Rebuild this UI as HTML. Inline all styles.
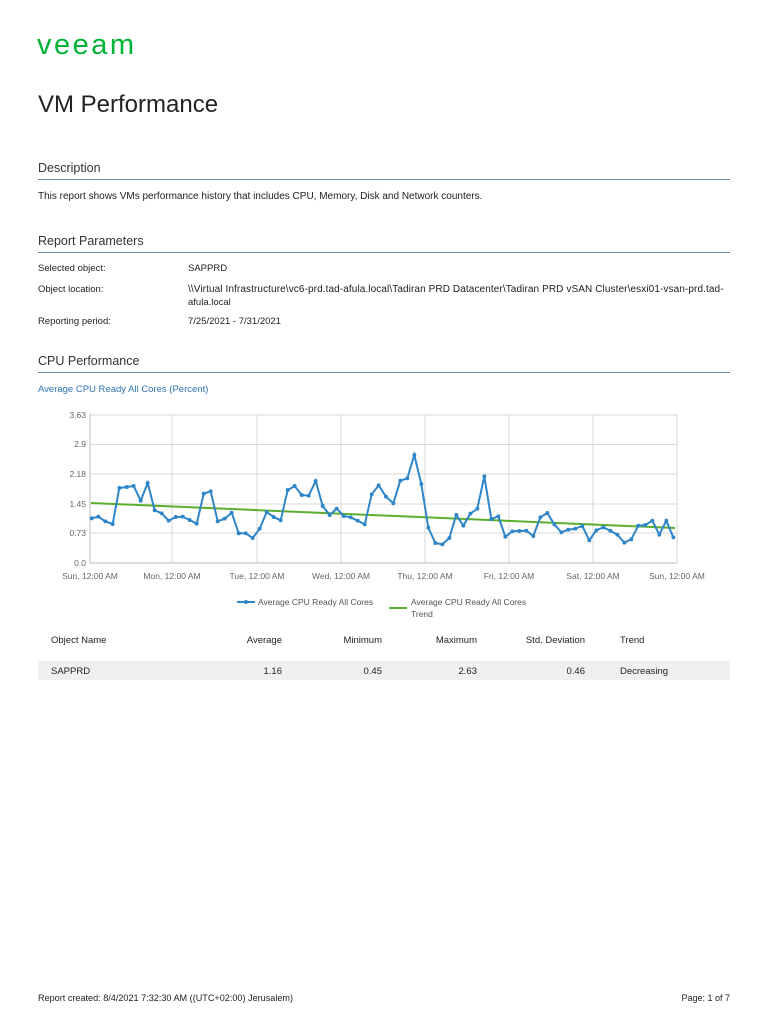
<!DOCTYPE html>
<html><head><meta charset="utf-8"><style>
body{margin:0;width:768px;height:1024px;background:#fff;position:relative;font-family:"Liberation Sans",sans-serif;color:#222;overflow:hidden}
.a{position:absolute;white-space:nowrap}
.h{font-size:12.5px;color:#333}
.ln{position:absolute;left:38px;width:692px;height:1px;background:#5b8db0}
.s{font-size:9.5px}
</style></head><body>
<div class="a" style="left:37px;top:29px;font-size:29px;color:#00b336;letter-spacing:2.5px">veeam</div>
<div class="a" style="left:38px;top:91px;font-size:24px;color:#222">VM Performance</div>

<div class="a h" style="left:38px;top:161px">Description</div>
<div class="ln" style="top:179px"></div>
<div class="a" style="left:38px;top:191px;font-size:10px">This report shows VMs performance history that includes CPU, Memory, Disk and Network counters.</div>

<div class="a h" style="left:38px;top:234px">Report Parameters</div>
<div class="ln" style="top:252px"></div>
<div class="a s" style="left:38px;top:263px">Selected object:</div>
<div class="a s" style="left:188px;top:263px">SAPPRD</div>
<div class="a s" style="left:38px;top:284px">Object location:</div>
<div class="a" style="left:188px;top:284px;font-size:10px;letter-spacing:0.1px">\\Virtual Infrastructure\vc6-prd.tad-afula.local\Tadiran PRD Datacenter\Tadiran PRD vSAN Cluster\esxi01-vsan-prd.tad-</div>
<div class="a s" style="left:188px;top:297px">afula.local</div>
<div class="a s" style="left:38px;top:316px">Reporting period:</div>
<div class="a s" style="left:188px;top:316px">7/25/2021 - 7/31/2021</div>

<div class="a h" style="left:38px;top:354px">CPU Performance</div>
<div class="ln" style="top:372px"></div>
<div class="a" style="left:38px;top:384px;font-size:9.5px;color:#2e75b6">Average CPU Ready All Cores (Percent)</div>

<svg class="a" style="left:0;top:0" width="768" height="1024">
<defs><marker id="m" markerWidth="4" markerHeight="4" refX="2" refY="2" markerUnits="userSpaceOnUse"><circle cx="2" cy="2" r="2" fill="#2e86c8"/></marker></defs>
<g stroke="#d9d9d9" stroke-width="1">
<line x1="90" y1="415" x2="677" y2="415"/><line x1="90" y1="444.5" x2="677" y2="444.5"/><line x1="90" y1="474" x2="677" y2="474"/><line x1="90" y1="504" x2="677" y2="504"/><line x1="90" y1="533" x2="677" y2="533"/>
<line x1="172" y1="415" x2="172" y2="563"/><line x1="257" y1="415" x2="257" y2="563"/><line x1="341" y1="415" x2="341" y2="563"/><line x1="425" y1="415" x2="425" y2="563"/><line x1="509" y1="415" x2="509" y2="563"/><line x1="593" y1="415" x2="593" y2="563"/><line x1="677" y1="415" x2="677" y2="563"/>
</g>
<line x1="90" y1="414" x2="90" y2="563" stroke="#bbb"/><line x1="90" y1="563" x2="677" y2="563" stroke="#bbb"/>
<g font-size="8.5" fill="#666" text-anchor="end" font-family="Liberation Sans,sans-serif">
<text x="86" y="418">3.63</text><text x="86" y="447">2.9</text><text x="86" y="477">2.18</text><text x="86" y="507">1.45</text><text x="86" y="536">0.73</text><text x="86" y="566">0.0</text></g>
<g font-size="8.5" fill="#666" text-anchor="middle" font-family="Liberation Sans,sans-serif">
<text x="90" y="579">Sun, 12:00 AM</text><text x="172" y="579">Mon, 12:00 AM</text><text x="257" y="579">Tue, 12:00 AM</text><text x="341" y="579">Wed, 12:00 AM</text><text x="425" y="579">Thu, 12:00 AM</text><text x="509" y="579">Fri, 12:00 AM</text><text x="593" y="579">Sat, 12:00 AM</text><text x="677" y="579">Sun, 12:00 AM</text></g>
<line x1="91" y1="503" x2="675" y2="528" stroke="#5cae2e" stroke-width="2"/>
<polyline fill="none" stroke="#2e86c8" stroke-width="2" marker-start="url(#m)" marker-mid="url(#m)" marker-end="url(#m)" points="91.7,518.3 98.3,516.7 105.3,521.3 112.7,524 119.3,488 126.7,487 133.7,486 140.7,500.7 147.7,483 154.7,510.3 161.7,513.3 168.7,520.7 175.7,517 182.7,516.7 189.7,520 196.7,523.7 203.7,493.7 210.7,491.3 217.7,521.3 224.7,518.7 231.7,512.7 238.7,533.3 245.7,533.3 252.7,538 259.7,528.7 266.7,512 273.7,517 280.7,520.3 287.7,490 294.7,486 301.7,495 308.7,495.7 315.7,481 322.7,506 329.7,515 336.7,508.7 343.7,516 350.7,517.3 357.7,520.7 364.7,524.3 371.7,494.3 378.7,485.3 386,496.7 393.3,503.3 400.3,480.7 407.3,478.3 414.3,455 421.3,484 428.3,527.7 435.3,543 442.3,544.3 449.3,538 456.3,515 463.3,525.7 470.3,513.7 477.3,508.7 484.3,476.3 491.3,519 498.3,516.3 505.3,536.7 512.3,531.3 519.3,531 526.3,530.7 533.3,536 540.3,517.3 547.3,513 554.3,524.3 561.3,532.3 568.3,529.7 575.3,528.7 582.3,526 589.3,540.3 596.3,530.3 603.3,527.3 610.3,530.7 617.3,534.7 624.3,542.7 631.3,539.3 638.3,525.7 645.3,525 652.3,520.7 659.3,534.7 666.3,520.7 673.3,537.3"/>
<line x1="237" y1="602" x2="255" y2="602" stroke="#2e86c8" stroke-width="2"/><circle cx="246" cy="602" r="2" fill="#2e86c8"/>
<line x1="389" y1="608" x2="407" y2="608" stroke="#5cae2e" stroke-width="2"/>
<g font-size="8.5" fill="#555" font-family="Liberation Sans,sans-serif">
<text x="258" y="605">Average CPU Ready All Cores</text>
<text x="411" y="605">Average CPU Ready All Cores</text><text x="411" y="617">Trend</text></g>
</svg>

<div class="a" style="left:38px;top:661px;width:692px;height:19px;background:#f0f0f0"></div>
<div class="a s" style="left:51px;top:635px">Object Name</div>
<div class="a s" style="right:486px;top:635px">Average</div>
<div class="a s" style="right:386px;top:635px">Minimum</div>
<div class="a s" style="right:291px;top:635px">Maximum</div>
<div class="a s" style="right:183px;top:635px">Std. Deviation</div>
<div class="a s" style="left:620px;top:635px">Trend</div>
<div class="a s" style="left:51px;top:666px">SAPPRD</div>
<div class="a s" style="right:486px;top:666px">1.16</div>
<div class="a s" style="right:386px;top:666px">0.45</div>
<div class="a s" style="right:291px;top:666px">2.63</div>
<div class="a s" style="right:183px;top:666px">0.46</div>
<div class="a s" style="left:620px;top:666px">Decreasing</div>

<div class="a" style="left:38px;top:993px;font-size:9.1px">Report created: 8/4/2021 7:32:30 AM ((UTC+02:00) Jerusalem)</div>
<div class="a" style="right:38px;top:993px;font-size:9px">Page: 1 of 7</div>
</body></html>
